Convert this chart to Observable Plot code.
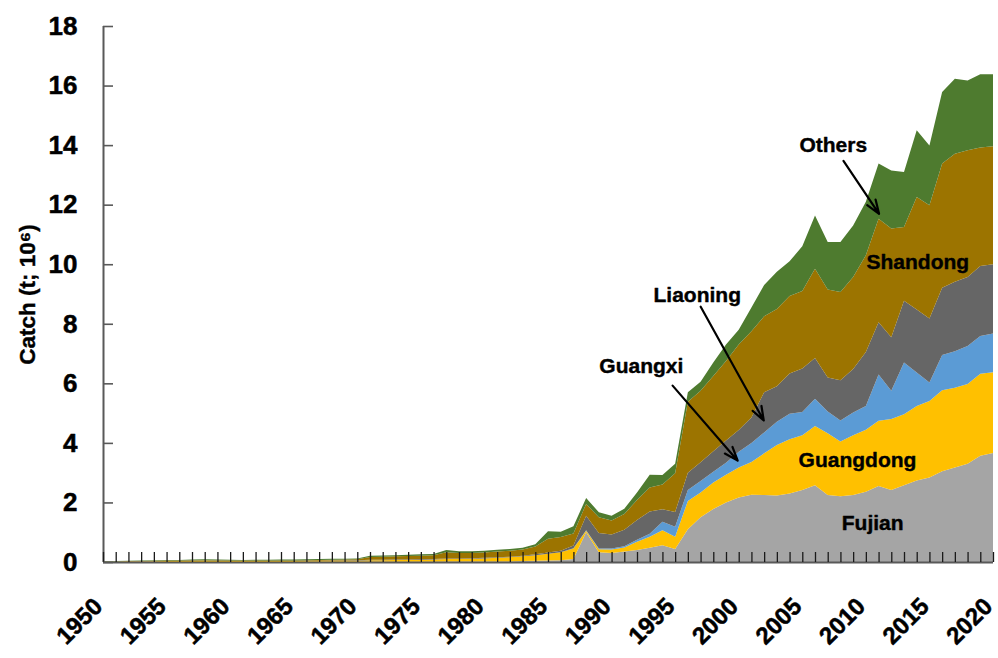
<!DOCTYPE html>
<html><head><meta charset="utf-8">
<script src="https://cdn.jsdelivr.net/npm/d3@7"></script>
<script src="https://cdn.jsdelivr.net/npm/@observablehq/plot@0.6"></script>
<style>body{margin:0;background:#fff} svg{display:block}</style>
</head><body><div id="chart"></div>
<script>
const years = d3.range(1950, 2021);

const fujian = [0,0,0,0,0,0,0,0,0,0, 0,0,0,0,0,0,.005,.005,.005,.005,
 .01,.01,.01,.01,.01,.01,.01,.015,.015,.015, .02,.02,.02,.03,.04,.05,.06,.10,1.00,.33,
 .30,.35,.40,.48,.56,.44,1.10,1.50,1.78,2.00, 2.17,2.26,2.25,2.23,2.30,2.42,2.58,2.25,2.21,2.25,
 2.36,2.55,2.42,2.58,2.74,2.84,3.05,3.17,3.30,3.57, 3.66];
const guangdong = [.01,.01,.015,.02,.025,.03,.03,.035,.04,.035, .03,.03,.03,.03,.03,.03,.03,.035,.035,.035,
 .035,.05,.05,.055,.06,.06,.07,.085,.085,.095, .10,.12,.14,.16,.19,.23,.27,.35,.05,.10,
 .12,.14,.28,.37,.51,.41,.95,.83,.89,.93, 1.00,1.10,1.40,1.70,1.82,1.84,1.99,2.07,1.84,2.01,
 2.08,2.19,2.38,2.38,2.50,2.57,2.72,2.68,2.68,2.75, 2.71];
const guangxi = [0,0,0,0,0,0,0,0,0,0, 0,0,0,0,0,0,0,0,0,0,
 0,0,0,0,0,0,0,0,0,0, 0,0,0,0,0,0,0,.01,.02,.02,
 .03,.04,.07,.10,.28,.33,.37,.39,.36,.40, .53,.64,.70,.78,.86,.78,.91,.73,.70,.76,
 .80,1.56,.95,1.74,1.12,.62,1.18,1.23,1.27,1.27, 1.30];
const liaoning = [.005,.005,.005,.005,.005,.005,.005,.005,.005,.005, .005,.005,.005,.005,.005,.005,.005,.005,.01,.01,
 .01,.015,.015,.015,.015,.02,.02,.02,.02,.02, .02,.02,.02,.02,.03,.04,.05,.09,.48,.52,
 .47,.55,.66,.75,.42,.50,.58,.63,.69,.75, .73,.85,1.35,1.19,1.35,1.46,1.37,1.15,1.35,1.46,
 1.81,1.75,1.80,2.07,2.12,2.15,2.26,2.33,2.32,2.35, 2.33];
const shandong = [.005,.005,.01,.01,.01,.015,.015,.015,.015,.015, .015,.015,.015,.015,.015,.015,.02,.025,.025,.03,
 .035,.095,.105,.11,.115,.12,.13,.21,.18,.17, .18,.19,.20,.21,.26,.46,.46,.41,.40,.53,
 .47,.53,.67,.80,.83,1.30,2.38,2.40,2.53,2.67, 2.87,2.90,2.55,2.60,2.60,2.60,3.00,2.95,2.97,3.09,
 3.25,3.48,3.65,2.48,3.78,3.80,4.17,4.30,4.26,3.98, 3.96];
const others = [.01,.015,.01,.015,.02,.02,.015,.025,.03,.025, .025,.02,.025,.025,.03,.03,.03,.03,.035,.03,
 .03,.04,.04,.04,.04,.05,.04,.07,.06,.06, .06,.06,.06,.06,.08,.25,.18,.24,.20,.17,
 .16,.18,.25,.43,.32,.32,.32,.30,.45,.55, .50,.80,1.05,1.25,1.17,1.50,1.79,1.60,1.68,1.73,
 1.80,1.85,1.95,1.85,2.24,2.01,2.40,2.52,2.34,2.46, 2.42];

const seriesNames = ["Fujian","Guangdong","Guangxi","Liaoning","Shandong","Others"];
const seriesColors = ["#A5A5A5","#FFC000","#5B9BD5","#666666","#9C7400","#4E7B2F"];
const seriesValues = [fujian, guangdong, guangxi, liaoning, shandong, others];

const yTicks = [0,2,4,6,8,10,12,14,16,18];
const xLabelYears = [1950,1955,1960,1965,1970,1975,1980,1985,1990,1995,2000,2005,2010,2015,2020];
const yTitle = "Catch (t; 10\u2076)";

const labelNames  = ["Fujian","Guangdong","Shandong","Others","Liaoning","Guangxi"];
const labelYears  = [2010.5, 2009.3, 2014.05, 2007.4, 1996.7, 1992.3];
const labelValues = [1.31, 3.42, 10.07, 14.0, 8.96, 6.58];

const arrowFromYear  = [2008.2, 1996.97, 1994.76];
const arrowFromValue = [13.49, 8.59, 5.94];
const arrowToYear    = [2011.0, 2001.93, 1999.88];
const arrowToValue   = [11.71, 4.77, 3.42];

const data = seriesNames.flatMap((s, i) => years.map((y, j) => ({year: y, series: s, value: seriesValues[i][j]})));
const labels = labelNames.map((n, i) => ({name: n, year: labelYears[i], value: labelValues[i]}));
const arrows = arrowFromYear.map((d, i) => ({x1: d, y1: arrowFromValue[i], x2: arrowToYear[i], y2: arrowToValue[i]}));

const font = "'Liberation Sans', Arial, Helvetica, sans-serif";
const bold = {fontWeight: "bold", fill: "#000", stroke: "#000", strokeWidth: 0.5};
const chart = Plot.plot({
  width: 998, height: 658,
  marginLeft: 103, marginRight: 5, marginTop: 26, marginBottom: 96,
  style: {fontFamily: font, background: "#fff"},
  x: {domain: [1950, 2020], axis: null},
  y: {domain: [0, 18], axis: null},
  color: {domain: seriesNames, range: seriesColors},
  marks: [
    Plot.areaY(data, {x: "year", y: "value", fill: "series", order: seriesNames}),
    Plot.ruleY([0], {stroke: "#595959", strokeWidth: 2}),
    Plot.ruleX([1950], {stroke: "#595959", strokeWidth: 2}),
    Plot.tickX(years, {x: d => d, insetTop: 526, stroke: "#1a1a1a", strokeWidth: 1.3}),
    Plot.tickY(yTicks, {y: d => d, insetRight: 880, stroke: "#595959", strokeWidth: 1.6}),
    Plot.text(yTicks, {y: d => d, frameAnchor: "left", textAnchor: "end", lineAnchor: "middle", dx: -26, text: d => String(d), fontSize: 26, ...bold}),
    Plot.text(xLabelYears, {x: d => d, frameAnchor: "bottom", textAnchor: "end", lineAnchor: "middle", rotate: -45, dx: -5, dy: 40, text: d => String(d), fontSize: 24, ...bold}),
    Plot.text([yTitle], {frameAnchor: "left", textAnchor: "middle", lineAnchor: "middle", rotate: -90, dx: -76, text: d => d, fontSize: 22.5, ...bold, strokeWidth: 0.4}),
    Plot.text(labels, {x: "year", y: "value", text: "name", fontSize: 21, ...bold, strokeWidth: 0.4}),
    Plot.arrow(arrows, {x1: "x1", y1: "y1", x2: "x2", y2: "y2", stroke: "#000", strokeWidth: 2.2, headLength: 10, headAngle: 40})
  ]
});
document.getElementById("chart").appendChild(chart);
</script>
</body></html>
